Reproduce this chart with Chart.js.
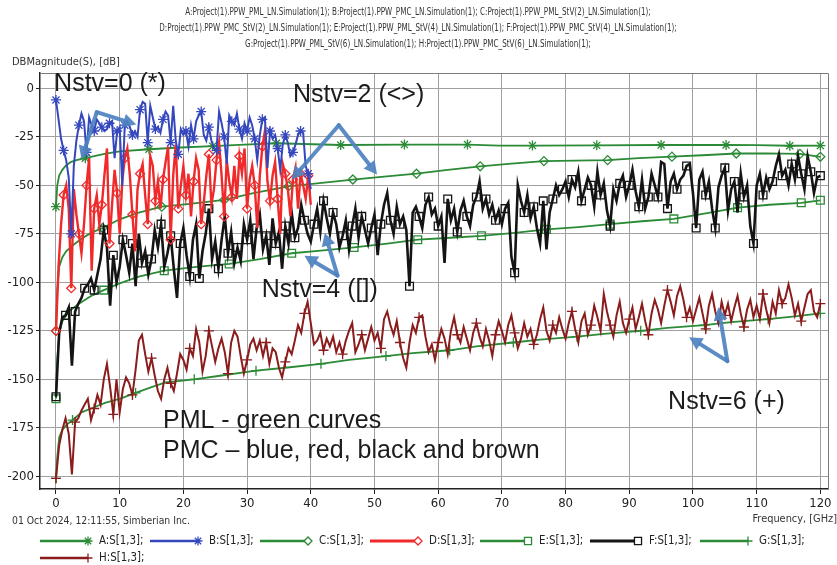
<!DOCTYPE html>
<html>
<head>
<meta charset="utf-8">
<script src="https://cdn.jsdelivr.net/npm/chart.js@4.4.1/dist/chart.umd.min.js"></script>
<style>
  html, body { margin: 0; padding: 0; background: #fff; }
  #chart { display: block; }
</style>
</head>
<body>
<canvas id="chart" width="837" height="565"></canvas>
<script>
const NARROW = "'Liberation Sans Narrow', 'Arial Narrow', 'DejaVu Sans Condensed', sans-serif";
const NOTE_FONT = "'Liberation Sans', Arial, sans-serif";

const titleLines = [
  "A:Project(1).PPW_PML_LN.Simulation(1); B:Project(1).PPW_PMC_LN.Simulation(1); C:Project(1).PPW_PML_StV(2)_LN.Simulation(1);",
  "D:Project(1).PPW_PMC_StV(2)_LN.Simulation(1); E:Project(1).PPW_PML_StV(4)_LN.Simulation(1); F:Project(1).PPW_PMC_StV(4)_LN.Simulation(1);",
  "G:Project(1).PPW_PML_StV(6)_LN.Simulation(1); H:Project(1).PPW_PMC_StV(6)_LN.Simulation(1);"
];
const yAxisTitle = "DBMagnitude(S), [dB]";
const xAxisTitle = "Frequency, [GHz]";
const stampText = "01 Oct 2024, 12:11:55, Simberian Inc.";

const xTicks = [0, 10, 20, 30, 40, 50, 60, 70, 80, 90, 100, 110, 120];
const yTicks = [0, -25, -50, -75, -100, -125, -150, -175, -200];

// PML curves (smooth), frequency in GHz / magnitude in dB
const freqA = [0, 0.2, 0.5, 1, 1.5, 2.3, 3.2, 4.6, 6, 7.8, 10, 14.6, 19.6, 24.6, 29.6, 34.6, 44.7, 54.7, 64.6, 69.6, 74.8, 84.9, 95, 105.2, 110, 115.2, 120];
const dbA   = [-61, -50, -45, -42, -40, -38, -37, -36, -35, -33.6, -32.5, -31.4, -30.5, -29.8, -29, -28.3, -29.2, -29, -29, -29.5, -29.5, -29.4, -29.2, -29.2, -29.3, -29.6, -29.5];
const marksA = [0, 4.6, 14.6, 24.6, 34.6, 44.7, 54.7, 64.6, 74.8, 84.9, 95, 105.2, 115.2, 120];

const freqC = [0, 0.2, 0.5, 1, 1.6, 2.6, 4, 5.5, 7.3, 10, 13, 16.6, 21, 26.4, 31, 36.5, 41, 46.6, 51.5, 56.6, 61.5, 66.6, 71.5, 76.6, 81.5, 86.6, 91.5, 96.7, 101.5, 106.8, 111.5, 116.8, 120];
const dbC   = [-125, -104, -92, -87, -84, -81, -77.5, -74.5, -72, -67.5, -64, -61, -59.5, -57.5, -54, -50.5, -49, -47, -45.5, -44, -42, -40.2, -38.8, -37.5, -37.3, -37, -36, -35.2, -34.5, -33.6, -33.5, -33.8, -35.3];
const marksC = [0, 7.3, 16.6, 26.4, 36.5, 46.6, 56.6, 66.6, 76.6, 86.6, 96.7, 106.8, 116.8, 120];

const freqE = [0, 0.2, 0.5, 1, 2, 3.6, 5.5, 7.5, 10, 13, 17, 22, 27.2, 32, 37, 42, 46.8, 52, 56.8, 62, 66.8, 72, 77, 82, 87, 92, 97, 102, 107, 112, 117, 120];
const dbE   = [-160, -140, -126, -120, -115, -111, -107, -104, -100.5, -97, -94, -92, -90.5, -88, -85, -83.5, -82, -80, -78, -77, -76, -74.5, -72.7, -71.5, -70, -68.5, -67.3, -64.5, -61.5, -60, -59, -57.7];
const marksE = [0, 7.5, 17, 27.2, 37, 46.8, 56.8, 66.8, 77, 87, 97, 107, 117, 120];

const freqG = [0, 0.2, 0.5, 1, 1.8, 2.6, 4, 5.5, 7.8, 10, 12.5, 15, 17.2, 21.7, 26, 31.4, 36, 41.6, 46, 51.8, 56, 61.8, 66, 71.8, 76, 81.8, 86, 91.8, 96, 101.8, 106, 111.8, 116, 120];
const dbG   = [-201, -190, -180, -176, -173, -171, -167, -165, -162, -160, -157, -154, -151.5, -150, -148, -145.5, -144, -142, -140, -138, -136.5, -135, -133, -131, -129.5, -128, -126.5, -125, -123.5, -122, -120.5, -119, -117.5, -116];
const marksG = [0, 2.6, 12.5, 21.7, 31.4, 41.6, 51.8, 61.8, 71.8, 81.8, 91.8, 101.8, 111.8, 120];

// PMC curves (resonant), uniform frequency sweep
const stepB = 0.4;
const dbB = [
  -6, -16, -26, -32, -37, -46, -75, -40, -27, -19,
  -13, -17, -33, -15, -19, -22, -16, -18, -20, -22,
  -21, -18, -17, -36, -22, -20, -50, -19, -17, -20,
  -24, -22, -25, -11, -7, -8, -28, -9, -15, -21,
  -20, -23, -16, -12, -14, -28, -9, -27, -34, -21,
  -24, -22, -30, -19, -26, -17, -14, -12, -24, -27,
  -20, -27, -31, -32, -12, -18, -25, -39, -14, -17,
  -19, -13, -21, -26, -18, -22, -15, -19, -26, -37,
  -24, -16, -15, -41, -22, -26, -24, -31, -42, -29,
  -24, -28, -35, -33, -29, -24, -22, -23, -40, -44,
  -52
];

const stepD = 0.4;
const dbD = [
  -125, -92, -70, -55, -50, -62, -103, -52, -65, -75,
  -85, -70, -50, -36, -94, -62, -55, -70, -60, -45,
  -31, -80, -60, -42, -54, -75, -48, -36, -31, -45,
  -65, -84, -52, -44, -39, -55, -70, -35, -40, -58,
  -48, -62, -47, -38, -30, -78, -45, -29, -62, -50,
  -40, -55, -44, -66, -48, -36, -42, -70, -59, -45,
  -34, -60, -52, -37, -28, -45, -66, -37, -48, -56,
  -40, -57, -35, -44, -31, -62, -47, -40, -50, -72,
  -45, -30, -22, -48, -58, -45, -38, -57, -75, -39,
  -44, -52, -66, -47, -41, -62, -44, -50, -57, -45,
  -60
];

const stepF = 0.5;
const dbF = [
  -159, -126, -118, -117, -113, -143, -115, -111, -108, -103,
  -101, -98, -104, -96, -88, -73, -82, -112, -86, -100,
  -92, -78, -86, -95, -80, -102, -75, -90, -84, -96,
  -88, -73, -82, -70, -92, -85, -76, -93, -108, -80,
  -72, -86, -97, -78, -70, -98, -84, -75, -62, -88,
  -79, -93, -78, -66, -85, -74, -90, -82, -89, -70,
  -78, -68, -88, -72, -65, -83, -76, -91, -67, -80,
  -74, -93, -71, -80, -64, -77, -72, -60, -68, -75,
  -79, -70, -62, -74, -58, -67, -75, -64, -70, -82,
  -76, -68, -83, -71, -62, -77, -66, -73, -80, -72,
  -65, -86, -70, -60, -54, -68, -75, -61, -70, -66,
  -73, -102, -64, -61, -66, -72, -60, -56, -65, -62,
  -71, -66, -90, -57, -68, -62, -74, -63, -58, -66,
  -71, -60, -56, -48, -62, -57, -65, -60, -68, -63,
  -70, -62, -59, -87, -95, -50, -58, -64, -55, -67,
  -61, -72, -80, -58, -83, -64, -57, -50, -55, -52,
  -48, -56, -47, -51, -43, -58, -52, -46, -50, -61,
  -43, -55, -49, -63, -71, -52, -58, -49, -45, -56,
  -50, -42, -53, -61, -47, -62, -56, -44, -50, -56,
  -38, -39, -62, -48, -44, -52, -47, -45, -40, -39,
  -54, -72, -47, -43, -55, -48, -62, -72, -51, -45,
  -41, -63, -52, -48, -64, -44, -56, -50, -71, -80,
  -50, -44, -55, -46, -52, -48, -40, -34, -45, -42,
  -50, -39, -47, -35, -44, -52, -35, -43, -54, -46,
  -45
];

const stepH = 0.5;
const dbH = [
  -201, -184, -176, -170, -178, -199, -172, -170, -166, -163,
  -160, -171, -165, -158, -163, -150, -142, -154, -168, -150,
  -167, -155, -149, -152, -158, -145, -130, -127, -137, -146,
  -139, -148, -156, -160, -150, -144, -152, -156, -147, -137,
  -140, -145, -134, -138, -124, -131, -146, -138, -125, -133,
  -141, -134, -129, -136, -147, -131, -125, -128, -138, -147,
  -140, -132, -129, -135, -130, -138, -131, -142, -134, -136,
  -144, -149, -141, -134, -137, -130, -122, -126, -116, -110,
  -121, -132, -130, -126, -135, -129, -133, -128, -136, -131,
  -137, -130, -125, -121, -136, -132, -127, -135, -129, -123,
  -130, -126, -134, -119, -115, -122, -127, -120, -131, -139,
  -144, -131, -122, -126, -118, -117, -128, -136, -132, -140,
  -131, -124, -129, -137, -125, -118, -127, -131, -123, -129,
  -135, -126, -121, -128, -133, -124, -130, -138, -127, -120,
  -125, -131, -122, -117, -126, -134, -129, -121, -128, -124,
  -132, -127, -119, -113, -125, -130, -122, -126, -118, -124,
  -129, -121, -115, -124, -131, -120, -116, -127, -122, -112,
  -118, -125, -106, -115, -122, -128, -117, -110, -121, -126,
  -119, -113, -124, -118, -111, -120, -127, -116, -109, -114,
  -121, -112, -104, -110, -117, -107, -102, -109, -118, -113,
  -120, -114, -108, -116, -124, -112, -106, -115, -121, -110,
  -117, -111, -120, -113, -107, -116, -123, -114, -109, -118,
  -112, -119, -106, -114, -121, -110, -116, -104, -111, -108,
  -101, -108, -117, -111, -120, -113, -106, -104, -115, -118,
  -111
];

// callouts: [text, f, dB] for the label baseline, arrows as [fromF, fromDb, toF, toDb]
const noteLabels = [
  ["Nstv=0 (*)", -0.3, -1.5],
  ["Nstv=2 (<>)", 37.2, -7.2],
  ["Nstv=4 ([])", 32.3, -107.8],
  ["Nstv=6 (+)", 96.1, -165.5],
  ["PML - green curves", 16.8, -175],
  ["PMC \u2013 blue, red, black and brown", 16.8, -190.5]
];
const noteArrows = [
  [6.4, -12.3, 4.0, -36.5],
  [6.4, -12.3, 12.6, -18.6],
  [44.4, -19.0, 37.0, -47.0],
  [44.4, -19.0, 50.4, -44.4],
  [44.2, -96.5, 39.0, -86.3],
  [44.2, -96.5, 42.2, -74.5],
  [105.4, -140.6, 99.4, -128.3],
  [105.4, -140.6, 104.0, -112.8]
];

const GREEN = "#2b8a36";
const BLUE = "#3447bd";
const RED = "#f02a2a";
const BLACK = "#141414";
const BROWN = "#8a1c1c";
const ARROW = "rgba(78,130,192,0.92)";

function sweep(step, n) {
  return Array.from({ length: n }, (_, i) => Math.round(i * step * 100) / 100);
}

const series = [
  { label: "A:S[1,3];", color: GREEN, width: 1.8, marker: "star", size: 5, x: freqA, y: dbA, marks: marksA, order: 8 },
  { label: "B:S[1,3];", color: BLUE, width: 2, marker: "star", size: 5, x: sweep(stepB, dbB.length), y: dbB, every: 3, order: 1 },
  { label: "C:S[1,3];", color: GREEN, width: 1.8, marker: "rectRot", size: 4.5, x: freqC, y: dbC, marks: marksC, order: 7 },
  { label: "D:S[1,3];", color: RED, width: 2.4, marker: "rectRot", size: 4.5, x: sweep(stepD, dbD.length), y: dbD, every: 3, order: 2 },
  { label: "E:S[1,3];", color: GREEN, width: 1.8, marker: "rect", size: 5.5, x: freqE, y: dbE, marks: marksE, order: 6 },
  { label: "F:S[1,3];", color: BLACK, width: 2.6, marker: "rect", size: 5.5, x: sweep(stepF, dbF.length), y: dbF, every: 3, order: 3 },
  { label: "G:S[1,3];", color: GREEN, width: 1.8, marker: "cross", size: 5, x: freqG, y: dbG, marks: marksG, order: 5 },
  { label: "H:S[1,3];", color: BROWN, width: 2, marker: "cross", size: 5, x: sweep(stepH, dbH.length), y: dbH, every: 6, order: 4 }
];

function hasMarker(s, ctx) {
  if (ctx.raw === undefined) return false;
  if (s.marks) return s.marks.includes(ctx.raw.x);
  return ctx.dataIndex % s.every === 0;
}

const datasets = series.map((s) => ({
  label: s.label,
  data: s.x.map((f, i) => ({ x: f, y: s.y[i] })),
  borderColor: s.color,
  borderWidth: s.width,
  pointStyle: s.marker,
  pointBorderColor: s.color,
  pointBackgroundColor: "rgba(0,0,0,0)",
  pointBorderWidth: 1.3,
  pointRadius: (ctx) => (hasMarker(s, ctx) ? s.size : 0),
  pointHoverRadius: 0,
  tension: 0,
  fill: false,
  order: s.order
}));

function drawArrow(ctx, x0, y0, x1, y1) {
  const ang = Math.atan2(y1 - y0, x1 - x0);
  const head = 13, half = 7;
  const bx = x1 - head * Math.cos(ang);
  const by = y1 - head * Math.sin(ang);
  ctx.beginPath();
  ctx.moveTo(x0, y0);
  ctx.lineTo(bx, by);
  ctx.stroke();
  ctx.beginPath();
  ctx.moveTo(x1, y1);
  ctx.lineTo(bx + half * Math.sin(ang), by - half * Math.cos(ang));
  ctx.lineTo(bx - half * Math.sin(ang), by + half * Math.cos(ang));
  ctx.closePath();
  ctx.fill();
}

// condensed caption text: squeeze horizontally around the anchor
function squeezedText(ctx, text, x, y, k) {
  ctx.save();
  ctx.translate(x, y);
  ctx.scale(k, 1);
  ctx.fillText(text, 0, 0);
  ctx.restore();
}

// header, axis captions, frame, callouts and the legend strip
const decorations = {
  id: "decorations",
  afterDraw(chart) {
    const { ctx, chartArea: a, scales } = chart;
    const sx = scales.x, sy = scales.y;
    ctx.save();

    ctx.strokeStyle = "#7a7a7a";
    ctx.lineWidth = 1;
    ctx.beginPath();
    ctx.moveTo(a.left, a.top + 0.5);
    ctx.lineTo(a.right + 0.5, a.top + 0.5);
    ctx.lineTo(a.right + 0.5, a.bottom);
    ctx.stroke();

    ctx.fillStyle = "#333";
    ctx.font = "10px " + NARROW;
    ctx.textAlign = "center";
    ctx.textBaseline = "middle";
    titleLines.forEach((line, i) => squeezedText(ctx, line, 418, 12 + i * 16, 0.8));

    ctx.textAlign = "left";
    ctx.font = "11px " + NARROW;
    squeezedText(ctx, yAxisTitle, 12, 62, 1.0);
    squeezedText(ctx, stampText, 12, 521, 0.94);
    ctx.textAlign = "right";
    squeezedText(ctx, xAxisTitle, 837, 519, 0.99);

    // callout arrows and labels
    ctx.strokeStyle = ARROW;
    ctx.fillStyle = ARROW;
    ctx.lineWidth = 4;
    ctx.lineCap = "round";
    noteArrows.forEach(([f0, d0, f1, d1]) => {
      drawArrow(ctx, sx.getPixelForValue(f0), sy.getPixelForValue(d0),
        sx.getPixelForValue(f1), sy.getPixelForValue(d1));
    });
    ctx.fillStyle = "#1c1c1c";
    ctx.font = "25px " + NOTE_FONT;
    ctx.textAlign = "left";
    ctx.textBaseline = "alphabetic";
    noteLabels.forEach(([text, f, d]) => {
      ctx.fillText(text, sx.getPixelForValue(f), sy.getPixelForValue(d));
    });

    // legend: line sample with marker at its right end
    const slots = [[40, 541], [150, 541], [260, 541], [370, 541], [480, 541], [590, 541], [700, 541], [40, 558]];
    ctx.font = "12px " + NARROW;
    ctx.textBaseline = "middle";
    ctx.lineCap = "butt";
    series.forEach((s, i) => {
      const [lx, ly] = slots[i];
      ctx.strokeStyle = s.color;
      ctx.lineWidth = s.width + 0.6;
      ctx.beginPath();
      ctx.moveTo(lx, ly);
      ctx.lineTo(lx + 48, ly);
      ctx.stroke();
      ctx.lineWidth = 1.3;
      ctx.fillStyle = "rgba(255,255,255,1)";
      Chart.helpers.drawPoint(ctx, { pointStyle: s.marker, radius: s.size - 0.5, rotation: 0, borderWidth: 1.3 }, lx + 48, ly);
      ctx.fillStyle = "#222";
      squeezedText(ctx, s.label, lx + 59, ly, 0.95);
    });
    ctx.restore();
  }
};

new Chart(document.getElementById("chart"), {
  type: "line",
  data: { datasets },
  options: {
    responsive: false,
    animation: false,
    devicePixelRatio: 1,
    layout: { padding: { top: 73, right: 9, bottom: 52, left: 0 } },
    plugins: { legend: { display: false }, tooltip: { enabled: false } },
    scales: {
      x: {
        type: "linear",
        min: -2.51,
        max: 121.2,
        afterBuildTicks: (axis) => { axis.ticks = xTicks.map((v) => ({ value: v })); },
        afterFit: (axis) => { axis.height = 24; },
        grid: { color: "#a0a0a0", lineWidth: 1, tickLength: 5, tickColor: "#222" },
        border: { color: "#222", width: 1.5 },
        ticks: { color: "#222", font: { family: NARROW, size: 13 }, padding: 2, maxRotation: 0 }
      },
      y: {
        type: "linear",
        min: -206.5,
        max: 7.9,
        afterBuildTicks: (axis) => { axis.ticks = yTicks.map((v) => ({ value: v })); },
        afterFit: (axis) => { axis.width = 40; },
        grid: { color: "#a0a0a0", lineWidth: 1, tickLength: 4, tickColor: "#222" },
        border: { color: "#222", width: 1.5 },
        ticks: { color: "#222", font: { family: NARROW, size: 13 }, padding: 2 }
      }
    }
  },
  plugins: [decorations]
});
</script>
</body>
</html>
